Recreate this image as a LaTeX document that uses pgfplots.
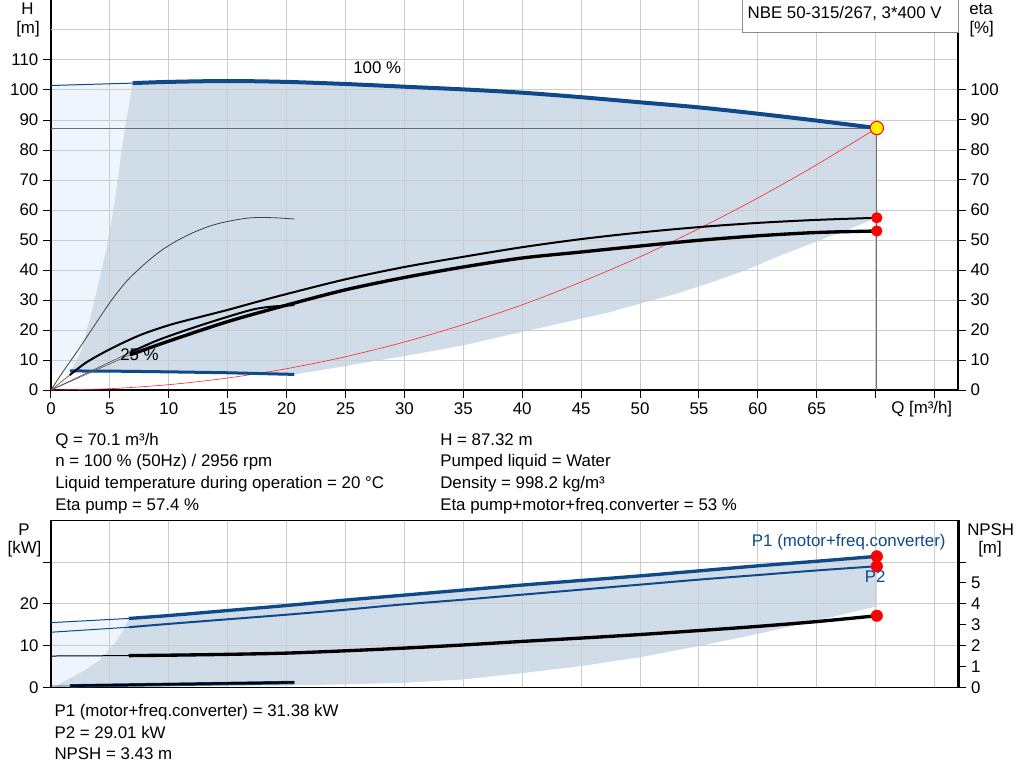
\documentclass[border=0pt]{standalone}
\usepackage{fontspec}
\setmainfont{Liberation Sans}
\usepackage{pgfplots}
\pgfplotsset{compat=1.18}
\definecolor{pblue}{RGB}{14,74,138}
\definecolor{dfill}{RGB}{208,220,231}
\definecolor{lfill}{RGB}{238,245,252}
\definecolor{gridc}{RGB}{204,204,204}
\definecolor{opline}{RGB}{110,110,110}
\newcommand\fnt{\fontsize{12.65}{15}\selectfont}
\pgfplotsset{
  common/.style={
    scale only axis, anchor=south west,
    width=680.6pt, xmin=0, xmax=77.03,
    tick align=outside,
    tick style={black, line width=0.75pt},
    tick label style={font=\fnt},
    /pgf/number format/assume math mode=true,
  },
  top/.style={common, at={(38.25pt,-292.5pt)}, height=292.5pt, ymin=0, ymax=130},
  bot/.style={common, at={(38.25pt,-515.5pt)}, height=125.25pt},
}
\begin{document}
\begin{tikzpicture}[font=\fnt]
\path[use as bounding box] (0,0) rectangle (768pt,-585.75pt);

% ================= TOP: fills =================
\begin{axis}[top, hide axis]
\addplot[fill=lfill, draw=none] coordinates {(0,101.5)(6.93,102.3)(6.4,90)(6.0,80)(5.43,63.3)(4.7,47)(3.7,30)(2.6,13.3)(1.7,6.35)(0,6.35)} -- cycle;
\addplot[fill=dfill, draw=none] coordinates {
(6.93,102.3)(10,102.7)(15,103)(20,102.7)(25,102)(30,101.1)(35,100.2)(39.1,99.4)(45,97.6)(50,95.9)(55,94.3)(60,92)(65,89.8)(70.1,87.32)
(70.1,57.4)(67.5,53.3)(65,49.5)(62,45)(59,40)(56,35.8)(53,32)(50,28.8)(47.5,26)(43,22)(39,18.5)(35,14.9)(30,11.3)(25,8.0)(20.65,5.2)
(15,5.75)(10,6.05)(1.7,6.35)(2.6,13.3)(3.7,30)(4.7,47)(5.43,63.3)(6.0,80)(6.4,90)} -- cycle;
\end{axis}

% ================= TOP: H axis =================
\begin{axis}[top,
  axis x line*=bottom, axis y line*=left,
  axis line style={black, line width=1.5pt},
  major tick length=6pt,
  xtick={0,5,...,75},
  xticklabels={0,5,10,15,20,25,30,35,40,45,50,55,60,65,{},{}},
  ytick={0,10,...,110},
  extra y ticks={120}, extra y tick labels={},
  extra y tick style={tick style={draw=none}},
  grid=major, major grid style={gridc, line width=0.75pt},
]
\addplot[opline, line width=0.75pt] coordinates {(0,87.32)(70.1,87.32)(70.1,0)};
\addplot[red!85, line width=0.45pt, smooth] coordinates {(0,0)(5,0.44)(10,1.78)(15,4.0)(20,7.1)(25,11.1)(30,16.0)(35,21.8)(40,28.4)(45,36.0)(50,44.4)(55,53.8)(60,64.0)(65,75.1)(70.1,87.32)};
\addplot[pblue, line width=0.75pt] coordinates {(0,101.5)(6.93,102.3)};
\addplot[pblue, line width=3pt, smooth] coordinates {(6.93,102.3)(10,102.7)(15,103)(20,102.7)(25,102)(30,101.1)(35,100.2)(40,99.1)(45,97.6)(50,95.9)(55,94.2)(60,92.1)(65,89.8)(70.1,87.32)};
\addplot[pblue, line width=2.25pt] coordinates {(1.6,6.35)(5,6.3)(10,6.05)(15,5.75)(20.65,5.2)};
\addplot[only marks, mark=*, mark size=5pt, mark options={fill=yellow, draw=red, line width=0.75pt}] coordinates {(70.1,87.32)};
\end{axis}

% ================= TOP: eta axis =================
\begin{axis}[top,
  axis x line=none, axis y line*=right,
  axis line style={black, line width=1.5pt},
  major tick length=5.5pt,
  ytick={0,10,...,100},
]
\addplot[black!65, line width=0.5pt] coordinates {(0,0)(1.6,5.0)};
\addplot[black!65, line width=0.5pt] coordinates {(0,0)(6.7,11.7)};
\addplot[black!65, line width=0.5pt] coordinates {(0,0)(6.7,12.5)};
\addplot[black!75, line width=0.6pt, smooth] coordinates {(0,0)(1,6)(2.3,13.3)(3.6,21)(5.15,30)(6.5,36.6)(8,42.2)(9.4,46.6)(10.8,50)(12.2,52.7)(13.6,54.8)(15,56.2)(16.5,57.2)(17.6,57.5)(19,57.4)(20.65,57.0)};
\addplot[black, line width=1.5pt, smooth] coordinates {(6.7,12.5)(9,16.5)(11.5,20.0)(14,23.2)(16.9,26.6)(18.5,27.7)(20.65,28.3)};
\addplot[black, line width=1.5pt, smooth] coordinates {(1.6,5.0)(3,9.2)(5,13.6)(7.5,18.2)(10,21.6)(12.5,24.2)(15,26.7)(17.5,29.4)(20,32.0)(25,36.9)(30,41.0)(35,44.4)(40,47.6)(45,50.3)(50,52.5)(55,54.3)(60,55.7)(65,56.7)(70.1,57.4)};
\addplot[black, line width=2.5pt, smooth] coordinates {(6.7,11.7)(10,16.3)(15,22.8)(20,28.3)(25,33.4)(30,37.5)(35,41.0)(40,44.0)(45,46.0)(50,48.0)(55,49.9)(60,51.4)(65,52.5)(70.1,53.0)};
\addplot[only marks, mark=*, mark size=4pt, mark options={fill=red, draw=red}] coordinates {(70.1,57.4)(70.1,53.0)};
\end{axis}

% ================= BOTTOM: fills =================
\begin{axis}[bot, hide axis, ymin=0, ymax=40]
\addplot[fill=lfill, draw=none] coordinates {(0,15.5)(6.6,16.5)(6.2,14)(5.43,10.6)(4.16,6.6)(3.0,4.3)(1.9,2.6)(0.8,1.0)(0,0)} -- cycle;
\addplot[fill=dfill, draw=none] coordinates {
(6.6,16.5)(10,17.2)(15,18.4)(20,19.6)(25,20.9)(29.6,22.0)(35,23.3)(40,24.5)(45,25.6)(50,26.7)(55,27.9)(60,29.1)(65,30.2)(70.1,31.38)
(70.1,19.4)(65,16.0)(60,12.8)(55,9.9)(50,7.2)(45,5.1)(40,3.4)(35,1.9)(30,1.1)(25,0.72)(20,0.45)(10,0.2)(0.3,0.1)
(0.8,1.0)(1.9,2.6)(3.0,4.3)(4.16,6.6)(5.43,10.6)(6.2,14)} -- cycle;
\end{axis}

% ================= BOTTOM: P axis =================
\begin{axis}[bot, ymin=0, ymax=40,
  axis line style={black, line width=1pt},
  major tick length=5.75pt,
  xtick={0,5,...,75}, xticklabels={}, xtick style={draw=none},
  ytick={0,10,20,30}, yticklabels={0,10,20,{}}, ytick pos=left,
  grid=major, major grid style={gridc, line width=0.75pt},
]
\addplot[pblue, line width=0.75pt] coordinates {(0,15.5)(6.6,16.5)};
\addplot[pblue, line width=2.5pt, smooth] coordinates {(6.6,16.5)(10,17.2)(15,18.4)(20,19.6)(25,20.9)(29.6,22.0)(35,23.3)(40,24.5)(45,25.6)(50,26.7)(55,27.9)(60,29.1)(65,30.2)(70.1,31.38)};
\addplot[pblue, line width=0.75pt] coordinates {(0,13.2)(6.6,14.4)};
\addplot[pblue, line width=1.5pt, smooth] coordinates {(6.6,14.4)(10,15.2)(15,16.3)(20,17.4)(25,18.6)(29.6,19.8)(35,21.0)(40,22.2)(45,23.4)(50,24.6)(55,25.8)(60,26.9)(65,28.0)(70.1,29.01)};
\addplot[black!70, line width=0.5pt] coordinates {(0,0.3)(1.6,0.35)};
\addplot[pblue, line width=2.6pt] coordinates {(1.6,0.35)(20.65,1.15)};
\addplot[black, line width=1.6pt] coordinates {(1.6,0.4)(20.65,1.2)};
\addplot[only marks, mark=*, mark size=4.3pt, mark options={fill=red, draw=red}] coordinates {(70.1,31.38)(70.1,29.01)};
\end{axis}

% ================= BOTTOM: NPSH axis =================
\begin{axis}[bot, ymin=0, ymax=8,
  axis x line=none, axis y line*=right,
  axis line style={black, line width=2pt},
  major tick length=6pt,
  ytick={0,1,...,6}, yticklabels={0,1,2,3,4,5,{}},
]
\addplot[black, line width=0.75pt] coordinates {(0,1.5)(6.6,1.52)};
\addplot[black, line width=2.5pt, smooth] coordinates {(6.6,1.52)(10,1.54)(15,1.58)(20,1.64)(25,1.75)(30,1.88)(35,2.03)(40,2.2)(45,2.36)(50,2.53)(55,2.72)(60,2.92)(65,3.15)(70.1,3.43)};
\addplot[only marks, mark=*, mark size=4.3pt, mark options={fill=red, draw=red}] coordinates {(70.1,3.43)};
\end{axis}

% ================= texts =================
\begin{scope}[x=0.75pt, y=-0.75pt, every node/.style={inner sep=0pt}]
\node[anchor=base] at (27.5,15) {H};
\node[anchor=base] at (28,34) {[m]};
\node[anchor=base] at (981,15) {eta};
\node[anchor=base] at (981.7,34) {[\%]};
\draw[black!45, fill=white, line width=0.75pt] (742,-2) rectangle (958.5,33);
\node[anchor=base west] at (747.3,18.7) {NBE 50-315/267, 3*400 V};
\node[anchor=base west] at (353,74) {100 \%};
\node[anchor=base west] at (120,360.7) {25 \%};
\node[anchor=base west] at (891,413.3) {Q [m³/h]};
\node[anchor=base west] at (55,445) {Q = 70.1 m³/h};
\node[anchor=base west] at (55,466.7) {n = 100 \% (50Hz) / 2956 rpm};
\node[anchor=base west] at (55,488.3) {Liquid temperature during operation = 20 °C};
\node[anchor=base west] at (55,510) {Eta pump = 57.4 \%};
\node[anchor=base west] at (440,445) {H = 87.32 m};
\node[anchor=base west] at (440,466.7) {Pumped liquid = Water};
\node[anchor=base west] at (440,488.3) {Density = 998.2 kg/m³};
\node[anchor=base west] at (440,510) {Eta pump+motor+freq.converter = 53 \%};
\node[anchor=base] at (24,535) {P};
\node[anchor=base] at (24.5,553) {[kW]};
\node[anchor=base] at (990.7,535) {NPSH};
\node[anchor=base] at (990,553) {[m]};
\node[anchor=base west, text=pblue] at (751.7,546) {P1 (motor+freq.converter)};
\node[anchor=base west, text=pblue] at (864.7,582) {P2};
\node[anchor=base west] at (54.3,716.7) {P1 (motor+freq.converter) = 31.38 kW};
\node[anchor=base west] at (54.3,738.2) {P2 = 29.01 kW};
\node[anchor=base west] at (54.3,759.7) {NPSH = 3.43 m};
\end{scope}
\end{tikzpicture}
\end{document}
